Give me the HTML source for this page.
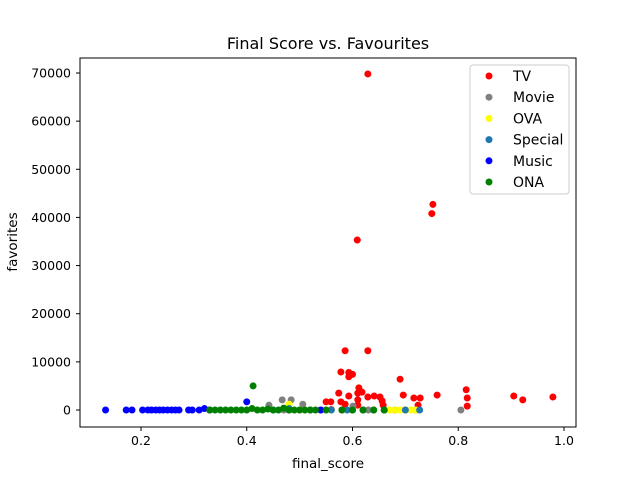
<!DOCTYPE html>
<html><head><meta charset="utf-8"><style>
body{margin:0;background:#fff;font-family:"DejaVu Sans","Liberation Sans",sans-serif}
</style></head><body>
<svg id="chart" width="640" height="480" xmlns="http://www.w3.org/2000/svg" font-family="'DejaVu Sans', 'Liberation Sans', sans-serif">
<rect width="640" height="480" fill="#fff"/>
<text x="328" y="49" font-size="16" text-anchor="middle">Final Score vs. Favourites</text>
<g id="marks"></g>
<g id="axes"></g>
<text x="328" y="468" font-size="13.5" text-anchor="middle">final_score</text>
<text transform="translate(17,242) rotate(-90)" font-size="13.5" text-anchor="middle">favorites</text>
</svg>
<script>
const seriesNames=["TV","Movie","OVA","Special","Music","ONA"];
const seriesColors=["#ff0000","#808080","#ffff00","#1f77b4","#0000ff","#008000"];
const tvX=[0.629,0.752,0.750,0.609,0.586,0.629,0.578,0.593,0.600,0.593,0.690,0.574,0.612,0.618,0.610,0.593,0.629,0.641,0.652,0.696,0.716,0.728,0.760,0.815,0.817,0.817,0.905,0.922,0.979,0.550,0.559,0.578,0.610,0.656,0.658,0.610,0.586,0.724,0.500,0.540,0.560,0.580,0.600,0.620,0.640,0.660,0.680,0.700,0.720];
const tvY=[69800,42700,40800,35300,12300,12300,7900,7800,7400,6900,6400,3500,4600,3700,3500,2900,2700,2900,2700,3100,2500,2500,3100,4200,2500,800,2900,2100,2700,1700,1700,1700,2100,1900,1000,1000,1200,1000,0,0,100,0,0,0,0,0,0,0,0];
const movieX=[0.442,0.467,0.484,0.506,0.805,0.601,0.470,0.520,0.630];
const movieY=[1000,2100,2100,1200,0,800,0,0,0];
const ovaX=[0.480,0.600,0.640,0.670,0.680,0.690,0.700,0.710,0.720,0.500,0.560];
const ovaY=[1200,0,0,0,0,0,0,0,0,0,0];
const specialX=[0.450,0.480,0.520,0.560,0.590,0.620,0.640,0.660,0.700,0.727,0.600];
const specialY=[0,300,0,0,0,0,0,0,0,0,0];
const musicX=[0.133,0.172,0.183,0.203,0.213,0.220,0.228,0.235,0.242,0.250,0.258,0.265,0.272,0.290,0.297,0.310,0.320,0.330,0.400,0.480,0.540];
const musicY=[0,0,0,0,0,0,0,0,0,0,0,0,0,0,0,0,300,0,1700,0,0];
const onaX=[0.412,0.330,0.340,0.350,0.360,0.370,0.380,0.390,0.400,0.410,0.420,0.430,0.440,0.450,0.460,0.470,0.480,0.490,0.500,0.510,0.520,0.530,0.550,0.580,0.600,0.620,0.640,0.660];
const onaY=[5000,0,0,0,0,0,0,0,0,300,0,0,200,0,0,400,0,0,0,0,0,0,0,0,0,0,0,0];
const xTicks=[0.2,0.4,0.6,0.8,1.0];
const xTickLabels=["0.2","0.4","0.6","0.8","1.0"];
const yTicks=[0,10000,20000,30000,40000,50000,60000,70000];
const yTickLabels=["0","10000","20000","30000","40000","50000","60000","70000"];

const L=80,R=576,T=58,B=427;
function sx(v){return 141+(v-0.2)*528.75;}
function sy(v){return 410-v*0.0048143;}
const NS="http://www.w3.org/2000/svg";
const marks=document.getElementById('marks'),axes=document.getElementById('axes');
function mk(tag,attrs,parent){const e=document.createElementNS(NS,tag);for(const k in attrs)e.setAttribute(k,attrs[k]);parent.appendChild(e);return e;}
const allX=[tvX,movieX,ovaX,specialX,musicX,onaX],allY=[tvY,movieY,ovaY,specialY,musicY,onaY];
allX.forEach((xs,si)=>{xs.forEach((xv,i)=>{
  const c=mk('circle',{cx:sx(xv),cy:sy(allY[si][i]),r:3.5,fill:seriesColors[si]},marks);
  
  
});});
const frame=mk('rect',{x:L,y:T,width:R-L,height:B-T,fill:'none',stroke:'#000','stroke-width':1},axes);


xTicks.forEach((t,i)=>{
  mk('line',{x1:sx(t),x2:sx(t),y1:B,y2:B+4,stroke:'#000'},axes);
  const tx=mk('text',{x:sx(t),y:B+18,'font-size':12.5,'text-anchor':'middle'},axes);
  tx.textContent=xTickLabels[i];
  
  
});
yTicks.forEach((t,i)=>{
  mk('line',{x1:L-4,x2:L,y1:sy(t),y2:sy(t),stroke:'#000'},axes);
  const tx=mk('text',{x:L-9,y:sy(t)+4.5,'font-size':12.5,'text-anchor':'end'},axes);
  tx.textContent=yTickLabels[i];
  
  
});
const lg=mk('g',{},axes);


mk('rect',{x:470,y:65,width:99,height:129,rx:3,fill:'#fff',stroke:'#ccc','fill-opacity':0.8},lg);
seriesNames.forEach((n,i)=>{
  const y=76+i*21.2;
  const e=mk('g',{},lg);
  
  
  mk('circle',{cx:489,cy:y,r:3.5,fill:seriesColors[i]},e);
  const t=mk('text',{x:513,y:y+5,'font-size':14},e);
  t.textContent=n;
});
</script>
</body></html>
